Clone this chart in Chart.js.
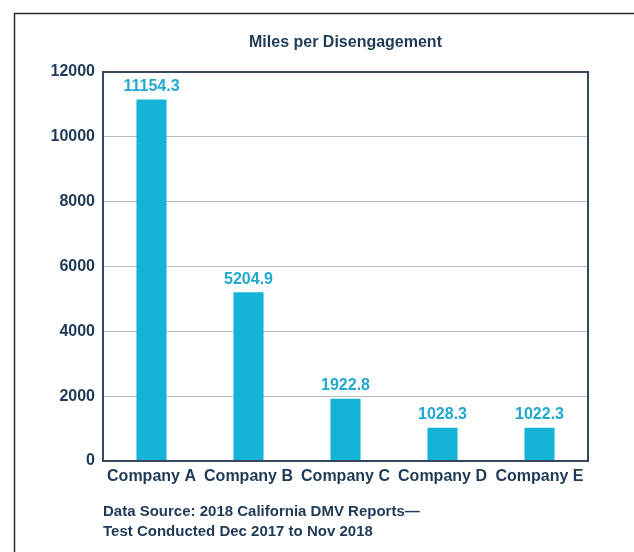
<!DOCTYPE html>
<html>
<head>
<meta charset="utf-8">
<script src="https://cdn.jsdelivr.net/npm/chart.js@4"></script>
<style>
  body { margin: 0; background: #fff; }
  canvas { display: block; }
</style>
</head>
<body>
<canvas id="miles-chart" width="634" height="552"></canvas>
<script>
// data
const companies = ["Company A", "Company B", "Company C", "Company D", "Company E"];
const milesPerDisengagement = [11154.3, 5204.9, 1922.8, 1028.3, 1022.3];
const yTicks = [0, 2000, 4000, 6000, 8000, 10000, 12000];
const chartTitle = "Miles per Disengagement";
const sourceLines = [
    "Data Source: 2018 California DMV Reports\u2014",
    "Test Conducted Dec 2017 to Nov 2018"
];

const navy     = "#1f3956";
const barBlue  = "#15b3d8";
const valBlue  = "#22a8cf";
const fontName = "'Liberation Sans', Arial, sans-serif";

// outer page frame (top + left only, like the scan)
const pageFrame = {
    id: "pageFrame",
    beforeDraw(chart) {
        const ctx = chart.ctx;
        ctx.save();
        ctx.fillStyle = "#fff";
        ctx.fillRect(0, 0, chart.width, chart.height);
        ctx.strokeStyle = "#2a2a2a";
        ctx.lineWidth = 1.5;
        ctx.beginPath();
        ctx.moveTo(14.5, chart.height);
        ctx.lineTo(14.5, 13.5);
        ctx.lineTo(chart.width, 13.5);
        ctx.stroke();
        ctx.restore();
    }
};

// box around the plot area
const plotBox = {
    id: "plotBox",
    afterDatasetsDraw(chart) {
        const { ctx, chartArea: a } = chart;
        ctx.save();
        ctx.strokeStyle = "#34475c";
        ctx.lineWidth = 2;
        ctx.strokeRect(a.left, a.top, a.right - a.left, a.bottom - a.top);
        ctx.restore();
    }
};

// value above each bar
const valueLabels = {
    id: "valueLabels",
    afterDatasetsDraw(chart) {
        const ctx = chart.ctx;
        const meta = chart.getDatasetMeta(0);
        ctx.save();
        ctx.font = "bold 16px " + fontName;
        ctx.fillStyle = valBlue;
        ctx.textAlign = "center";
        ctx.textBaseline = "middle";
        meta.data.forEach((bar, i) => {
            ctx.fillText(milesPerDisengagement[i].toFixed(1), bar.x, bar.y - 13);
        });
        ctx.restore();
    }
};

// title centred over the plot, source note under the axis
const textBlocks = {
    id: "textBlocks",
    afterDraw(chart) {
        const ctx = chart.ctx;
        const a = chart.chartArea;
        ctx.save();
        ctx.fillStyle = navy;
        ctx.textBaseline = "middle";
        ctx.font = "bold 16px " + fontName;
        ctx.textAlign = "center";
        ctx.fillText(chartTitle, (a.left + a.right) / 2, 43);
        ctx.font = "bold 15px " + fontName;
        ctx.textAlign = "left";
        sourceLines.forEach((line, i) => {
            ctx.fillText(line, a.left, 512 + i * 20);
        });
        ctx.restore();
    }
};

new Chart(document.getElementById("miles-chart"), {
    type: "bar",
    data: {
        labels: companies,
        datasets: [{
            data: milesPerDisengagement,
            backgroundColor: barBlue,
            borderWidth: 0,
            barPercentage: 0.31,
            categoryPercentage: 1
        }]
    },
    options: {
        responsive: false,
        animation: false,
        layout: { padding: { top: 72, right: 46, bottom: 0, left: 0 } },
        plugins: {
            legend: { display: false },
            tooltip: { enabled: false },
            title: { display: false }
        },
        scales: {
            x: {
                grid: { display: false, drawTicks: false },
                border: { display: false },
                ticks: {
                    color: navy,
                    padding: 6,
                    font: { family: fontName, size: 16, weight: "bold" }
                },
                afterFit(scale) { scale.height = 91; }
            },
            y: {
                min: 0,
                max: 12000,
                grid: { color: "#bdbdbd", lineWidth: 1, drawTicks: false },
                border: { display: false },
                afterBuildTicks(scale) {
                    scale.ticks = yTicks.map(v => ({ value: v }));
                },
                ticks: {
                    color: navy,
                    padding: 8,
                    callback: v => String(v),
                    font: { family: fontName, size: 16, weight: "bold" }
                },
                afterFit(scale) { scale.width = 103; }
            }
        }
    },
    plugins: [pageFrame, plotBox, valueLabels, textBlocks]
});
</script>
</body>
</html>
